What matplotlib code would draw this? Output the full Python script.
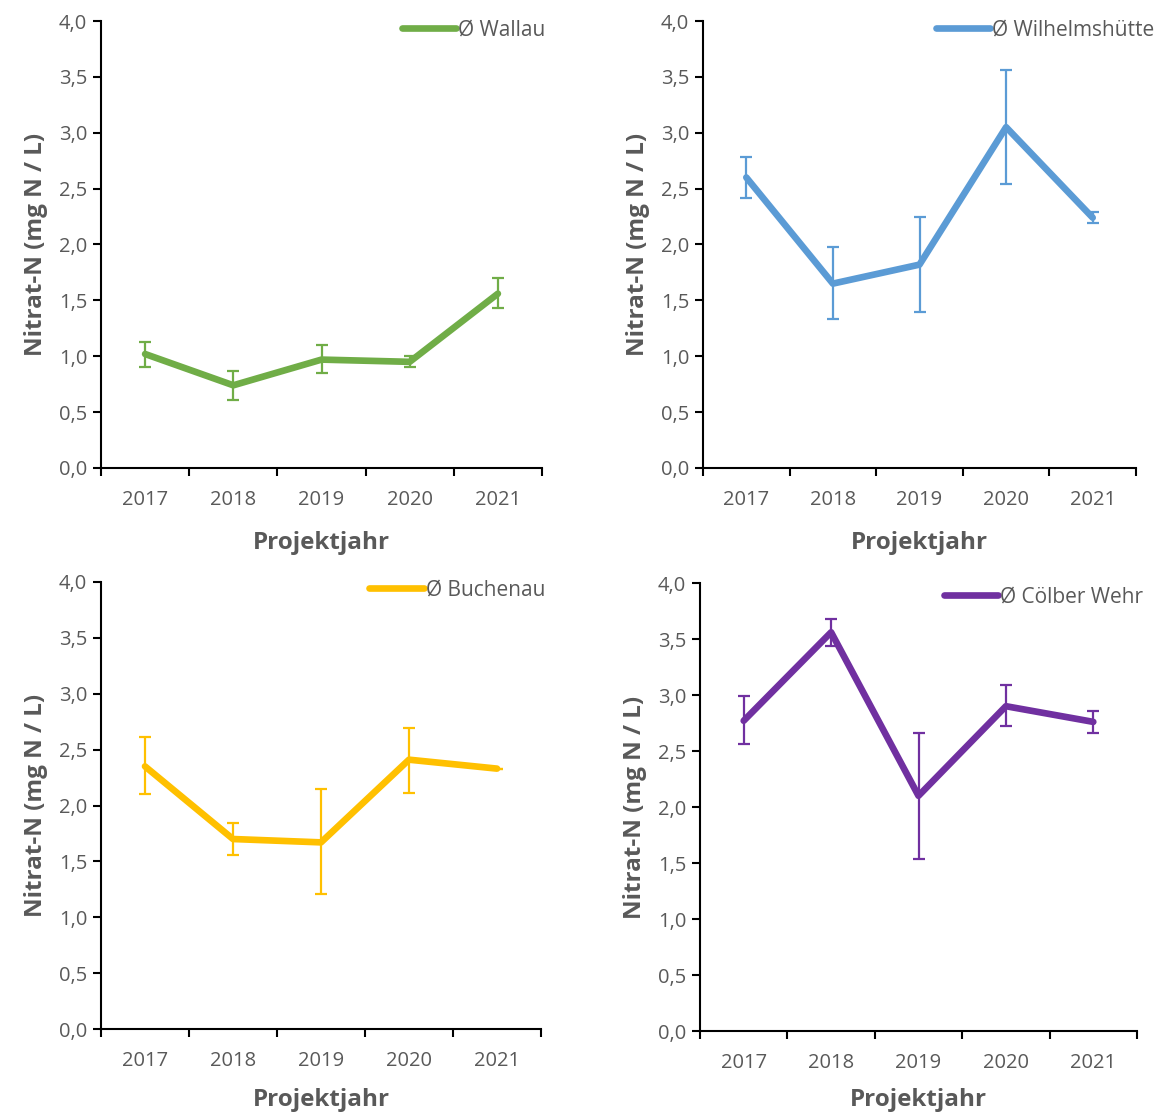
import matplotlib
matplotlib.use("Agg")
import matplotlib.pyplot as plt
import numpy as np

years = ["2017", "2018", "2019", "2020", "2021"]

wallau_mean = [1.02, 0.74, 0.97, 0.95, 1.56]
wallau_low = [0.90, 0.61, 0.85, 0.90, 1.43]
wallau_high = [1.13, 0.87, 1.10, 1.00, 1.70]

wilhelm_mean = [2.60, 1.65, 1.82, 3.05, 2.24]
wilhelm_low = [2.42, 1.33, 1.40, 2.54, 2.19]
wilhelm_high = [2.78, 1.98, 2.25, 3.56, 2.29]

buchenau_mean = [2.35, 1.70, 1.67, 2.41, 2.33]
buchenau_low = [2.10, 1.56, 1.21, 2.11, 2.33]
buchenau_high = [2.61, 1.84, 2.15, 2.69, 2.33]

coelbe_mean = [2.77, 3.56, 2.10, 2.90, 2.76]
coelbe_low = [2.56, 3.44, 1.54, 2.72, 2.66]
coelbe_high = [2.99, 3.68, 2.66, 3.09, 2.86]

names = ["Ø Wallau", "Ø Wilhelmshütte", "Ø Buchenau", "Ø Cölber Wehr"]
colors = ["#70AD47", "#5B9BD5", "#FFC000", "#7030A0"]

series = [
    (wallau_mean, wallau_low, wallau_high),
    (wilhelm_mean, wilhelm_low, wilhelm_high),
    (buchenau_mean, buchenau_low, buchenau_high),
    (coelbe_mean, coelbe_low, coelbe_high),
]

plt.rcParams['font.family'] = ['Open Sans', 'DejaVu Sans']
TXT = "#595959"

W, H = 1160, 1115
fig = plt.figure(figsize=(W / 100, H / 100), dpi=100)

# axes boxes in pixels: left, top, right, bottom ; legend right edge / center y in px
boxes = [
    (101, 21, 542, 468),
    (703, 21, 1136, 468),
    (101, 582, 541, 1029),
    (700, 583, 1137, 1031),
]
leg_pos = [(545, 30), (1154, 30), (545, 590), (1143, 597)]
xlab_pad = [15.5, 15.5, 12.5, 11.0]

for i, ((m, lo, hi), name, c, (l, t, r, b), (lx, ly), xp) in enumerate(
        zip(series, names, colors, boxes, leg_pos, xlab_pad)):
    ax = fig.add_axes([l / W, 1 - b / H, (r - l) / W, (b - t) / H])
    x = np.arange(len(years))
    m = np.array(m); lo = np.array(lo); hi = np.array(hi)
    yerr = np.vstack([m - lo, hi - m])
    ax.errorbar(x, m, yerr=yerr, fmt='none', ecolor=c, elinewidth=1.6,
                capsize=4.5, capthick=1.6, zorder=2)
    ax.plot(x, m, color=c, lw=4.8, solid_capstyle='round', solid_joinstyle='round',
            label=name, zorder=3)
    ax.set_xlim(-0.5, len(years) - 0.5)
    ax.set_ylim(0, 4.0)
    yt = np.arange(0, 4.01, 0.5)
    ax.set_yticks(yt)
    ax.set_yticklabels([f"{v:.1f}".replace(".", ",") for v in yt])
    ax.set_xticks(np.arange(-0.5, len(years), 1.0))
    ax.set_xticklabels([])
    ax.set_xticks(x, minor=True)
    ax.set_xticklabels(years, minor=True)
    ax.tick_params(axis='x', which='minor', length=0, pad=15.5, labelsize=14.5, labelcolor=TXT)
    ax.tick_params(axis='x', which='major', length=6, width=1.5, direction='out', color='black')
    ax.tick_params(axis='y', length=6, width=1.5, direction='out', labelsize=14.5,
                   labelcolor=TXT, pad=4)
    for s in ['top', 'right']:
        ax.spines[s].set_visible(False)
    for s in ['left', 'bottom']:
        ax.spines[s].set_linewidth(1.5)
        ax.spines[s].set_color('black')
    ax.set_xlabel("Projektjahr", fontsize=17.5, fontweight='bold', color=TXT, labelpad=xp)
    ax.set_ylabel("Nitrat-N (mg N / L)", fontsize=17.5, fontweight='bold', color=TXT, labelpad=8)
    leg = ax.legend(loc='center right',
                    bbox_to_anchor=(lx / W, 1 - ly / H), bbox_transform=fig.transFigure,
                    frameon=False, fontsize=15, handlelength=2.6, handletextpad=0.1,
                    borderaxespad=0, borderpad=0)
    for tx in leg.get_texts():
        tx.set_color(TXT)

fig.savefig("out.png", dpi=100)
